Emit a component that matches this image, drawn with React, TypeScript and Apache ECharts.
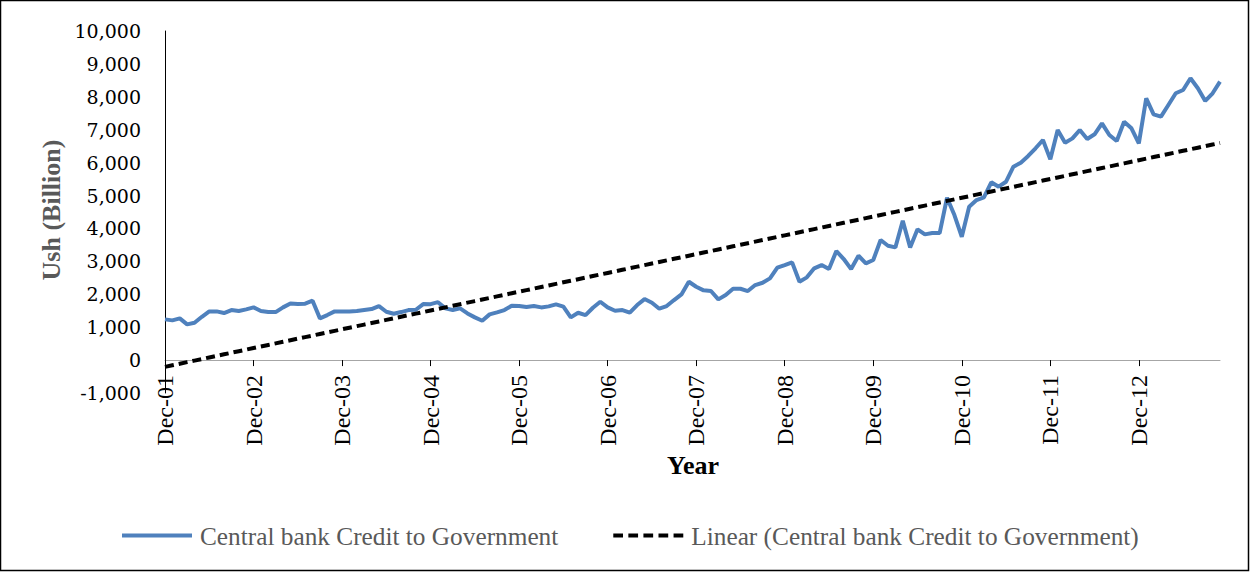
import React, { useEffect, useRef } from "react";
import * as echarts from "echarts";

const monthNames = ["Jan", "Feb", "Mar", "Apr", "May", "Jun", "Jul", "Aug", "Sep", "Oct", "Nov", "Dec"];
const startYear = 2001;
const startMonthIndex = 11; // Dec-01
const seriesName = "Central bank Credit to Government";
const trendName = "Linear (Central bank Credit to Government)";

// Monthly values, Ush billion, Dec-01 .. Nov-13
const creditValues = [
  1237, 1207, 1268, 1085, 1134, 1316, 1480, 1480, 1429, 1520, 1490, 1541,
  1602, 1490, 1459, 1459, 1602, 1723, 1703, 1713, 1804, 1268, 1368, 1480,
  1480, 1480, 1490, 1520, 1550, 1642, 1470, 1409, 1459, 1520, 1530, 1703,
  1700, 1760, 1571, 1520, 1571, 1419, 1298, 1196, 1389, 1449, 1520, 1652,
  1642, 1611, 1642, 1601, 1632, 1692, 1622, 1298, 1439, 1368, 1591, 1773,
  1601, 1500, 1520, 1439, 1672, 1854, 1743, 1561, 1642, 1824, 1996, 2381,
  2228, 2119, 2098, 1845, 1976, 2168, 2168, 2098, 2280, 2350, 2483, 2807,
  2888, 2970, 2381, 2514, 2788, 2888, 2766, 3314, 3070, 2766, 3171, 2940,
  3040, 3648, 3475, 3424, 4235, 3424, 3973, 3820, 3860, 3860, 4934, 4408,
  3748, 4660, 4864, 4946, 5402, 5269, 5420, 5876, 5998, 6202, 6436, 6688,
  6100, 6990, 6606, 6738, 6992, 6718, 6861, 7195, 6840, 6658, 7245, 7043,
  6587, 7955, 7469, 7397, 7752, 8107, 8208, 8563, 8259, 7874, 8107, 8461,
];

const categories: string[] = creditValues.map((_, i) => {
  const m = startMonthIndex + i;
  const year = startYear + Math.floor(m / 12);
  return `${monthNames[m % 12]}-${String(year % 100).padStart(2, "0")}`;
});

// Least-squares linear trend (as Excel's linear trendline)
function linearTrend(values: number[]): number[] {
  const n = values.length;
  let sx = 0, sy = 0, sxx = 0, sxy = 0;
  values.forEach((y, i) => {
    const x = i + 1;
    sx += x; sy += y; sxx += x * x; sxy += x * y;
  });
  const slope = (n * sxy - sx * sy) / (n * sxx - sx * sx);
  const intercept = (sy - slope * sx) / n;
  return values.map((_, i) => intercept + slope * (i + 1));
}

const trendValues = linearTrend(creditValues);

const dashIcon =
  "path://M0,0h10v4h-10z M15.5,0h10v4h-10z M31,0h10v4h-10z M46.5,0h10v4h-10z M62,0h10v4h-10z";

export default function App() {
  const ref = useRef<HTMLDivElement>(null);

  useEffect(() => {
    if (!ref.current) return;
    const chart = echarts.init(ref.current, null, { renderer: "svg" });
    chart.setOption({
      animation: false,
      backgroundColor: "#ffffff",
      grid: { left: 165, right: 30, top: 31, bottom: 179, containLabel: false },
      legend: {
        left: 117,
        top: 518,
        itemWidth: 70,
        itemHeight: 4,
        itemGap: 55,
        symbolKeepAspect: false,
        textStyle: {
          fontFamily: "Liberation Serif",
          fontSize: 25.3,
          color: "#595959",
          padding: [0, 0, 0, 3],
        },
        data: [
          { name: seriesName, icon: "rect" },
          { name: trendName, icon: dashIcon },
        ],
      },
      xAxis: {
        type: "category",
        data: categories,
        boundaryGap: false,
        axisLine: { onZero: true, lineStyle: { color: "#a6a6a6", width: 1 } },
        axisTick: { interval: 11, length: 6, lineStyle: { color: "#000" } },
        axisLabel: {
          interval: 11,
          rotate: 90,
          margin: -18,
          fontFamily: "Liberation Serif",
          fontSize: 24,
          color: "#000",
        },
        splitLine: { show: false },
      },
      yAxis: {
        type: "value",
        min: -1000,
        max: 10000,
        interval: 1000,
        axisLine: { show: true, lineStyle: { color: "#000", width: 1 } },
        axisTick: { show: false },
        splitLine: { show: false },
        axisLabel: {
          margin: 24,
          fontFamily: "DejaVu Serif",
          fontSize: 19,
          color: "#000",
          formatter: (v: number) => v.toLocaleString("en-US"),
        },
      },
      series: [
        {
          name: seriesName,
          type: "line",
          data: creditValues,
          symbol: "none",
          lineStyle: { color: "#4f81bd", width: 4 },
          itemStyle: { color: "#4f81bd" },
        },
        {
          name: trendName,
          type: "line",
          data: trendValues,
          symbol: "none",
          lineStyle: { color: "#000", width: 4, type: [9, 5] },
          itemStyle: { color: "#000" },
        },
      ],
      graphic: [
        {
          type: "rect",
          shape: { x: 0.5, y: 0.5, width: 1248, height: 570 },
          style: { fill: "none", stroke: "#000", lineWidth: 1.5 },
          silent: true,
        },
        {
          type: "text",
          x: 693,
          y: 465,
          style: {
            text: "Year",
            font: "bold 26px 'Liberation Serif'",
            fill: "#000",
            textAlign: "center",
            textVerticalAlign: "middle",
            verticalAlign: "middle",
          },
        },
        {
          type: "text",
          x: 51,
          y: 210,
          rotation: Math.PI / 2,
          style: {
            text: "Ush (Billion)",
            font: "bold 26px 'Liberation Serif'",
            fill: "#595959",
            textAlign: "center",
            textVerticalAlign: "middle",
            verticalAlign: "middle",
          },
        },
      ],
    });
    return () => chart.dispose();
  }, []);

  return (
    <div
      ref={ref}
      style={{ position: "absolute", left: 0, top: 0, width: 1250, height: 572 }}
    />
  );
}
